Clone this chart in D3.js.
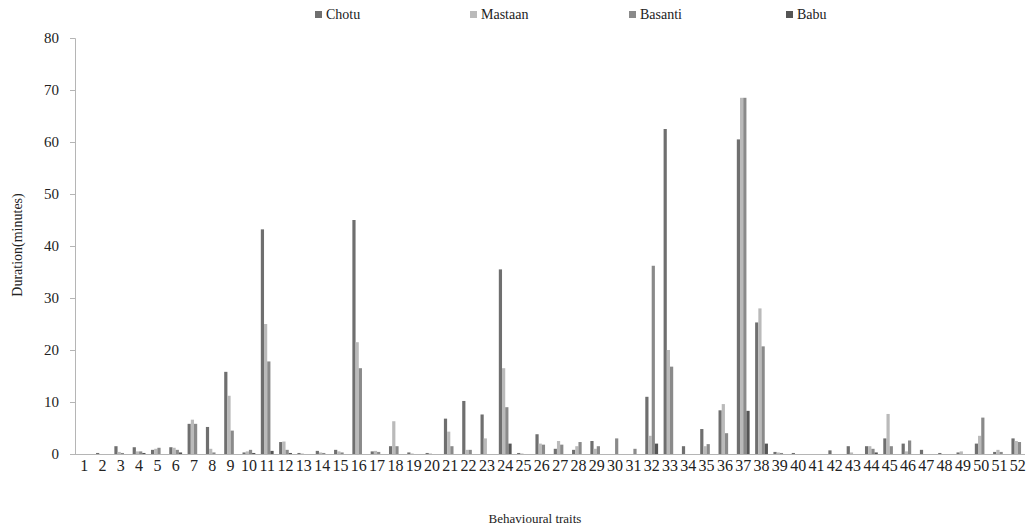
<!DOCTYPE html>
<html>
<head>
<meta charset="utf-8">
<script src="https://cdn.jsdelivr.net/npm/d3@7"></script>
<style>
  body { margin: 0; background: #fff; }
  svg, svg text { font-family: "Liberation Serif", "DejaVu Serif", serif; }
</style>
</head>
<body>
<div id="fig"></div>
<script>
// behavioural trait numbers
var traits = [1,2,3,4,5,6,7,8,9,10,11,12,13,14,15,16,17,18,19,20,21,22,23,24,25,26,
              27,28,29,30,31,32,33,34,35,36,37,38,39,40,41,42,43,44,45,46,47,48,49,50,51,52];

var seriesNames = ["Chotu", "Mastaan", "Basanti", "Babu"];
var seriesColors = ["#6f6f6f", "#bababa", "#8a8a8a", "#555555"];

// durations in minutes
var chotu   = [0, 0.2, 1.5, 1.3, 0.8, 1.3, 5.8, 5.2, 15.8, 0.3, 43.2, 2.3, 0.2, 0.6, 0.8, 45, 0.5, 1.5, 0.3, 0.2,
               6.8, 10.2, 7.6, 35.5, 0.2, 3.8, 1.0, 0.8, 2.5, 0, 0, 11, 62.5, 1.5, 4.8, 8.4, 60.5, 25.3, 0.4, 0.2,
               0, 0.7, 1.5, 1.5, 3.0, 2.0, 0.8, 0.2, 0.3, 2.0, 0.4, 3.0];
var mastaan = [0, 0, 0.4, 0.5, 1.0, 1.2, 6.6, 1.0, 11.2, 0.5, 25, 2.4, 0.1, 0.3, 0.5, 21.5, 0.6, 6.3, 0.1, 0.1,
               4.3, 0.8, 3.0, 16.5, 0.1, 2.0, 2.5, 1.5, 1.0, 0, 0, 3.5, 20, 0, 1.5, 9.6, 68.5, 28, 0.3, 0,
               0, 0, 0.3, 1.5, 7.7, 0.5, 0, 0, 0.5, 3.5, 0.8, 2.5];
var basanti = [0, 0, 0.2, 0.5, 1.2, 0.8, 5.8, 0.3, 4.5, 0.8, 17.8, 0.8, 0, 0.2, 0.3, 16.5, 0.4, 1.5, 0, 0,
               1.5, 0.8, 0, 9, 0, 1.8, 1.8, 2.3, 1.5, 3.0, 1.0, 36.2, 16.8, 0, 1.9, 4.0, 68.5, 20.7, 0.2, 0,
               0, 0, 0, 1.0, 1.5, 2.6, 0, 0, 0, 7.0, 0.4, 2.3];
var babu    = [0, 0, 0, 0.2, 0, 0.3, 0, 0, 0, 0.2, 0.6, 0.2, 0, 0, 0, 0, 0, 0, 0, 0,
               0, 0, 0, 2, 0, 0, 0, 0, 0, 0, 0, 2, 0, 0, 0, 0, 8.3, 2, 0, 0,
               0, 0, 0, 0.3, 0, 0, 0, 0, 0, 0, 0, 0];

var yTicks = [0, 10, 20, 30, 40, 50, 60, 70, 80];

var width = 1027, height = 529;
var serif = "'Liberation Serif', 'DejaVu Serif', serif";
var allSeries = [chotu, mastaan, basanti, babu];

var svg = d3.select("#fig").append("svg")
    .attr("width", width)
    .attr("height", height)
    .attr("font-family", serif);

var x = d3.scaleBand()
    .domain(traits)
    .range([75, 1027])
    .paddingInner(0.3)
    .paddingOuter(0.15);

var xSub = d3.scaleBand()
    .domain(seriesNames)
    .range([0, x.bandwidth()]);

var y = d3.scaleLinear()
    .domain([0, 80])
    .range([454, 38]);

// bars
var groups = svg.append("g").selectAll("g")
    .data(traits)
    .enter().append("g")
      .attr("transform", function(d) { return "translate(" + x(d) + ",0)"; });

groups.selectAll("rect")
    .data(function(d, i) {
      return seriesNames.map(function(s, k) { return {s: s, k: k, v: allSeries[k][i]}; });
    })
    .enter().append("rect")
      .attr("x", function(d) { return xSub(d.s); })
      .attr("width", xSub.bandwidth())
      .attr("y", function(d) { return y(d.v); })
      .attr("height", function(d) { return y(0) - y(d.v); })
      .attr("fill", function(d) { return seriesColors[d.k]; });

// y axis
var yAxis = svg.append("g")
    .attr("transform", "translate(75,0)")
    .call(d3.axisLeft(y).tickValues(yTicks).tickSize(5).tickPadding(11));
yAxis.attr("font-family", serif).attr("font-size", 15);
yAxis.select(".domain").attr("stroke", "#b5b5b5");
yAxis.selectAll(".tick line").attr("stroke", "#b5b5b5");
yAxis.selectAll(".tick text").attr("fill", "#222");

// x axis
var xAxis = svg.append("g")
    .attr("transform", "translate(0,454)")
    .call(d3.axisBottom(x).tickSize(0).tickPadding(6));
xAxis.attr("font-family", serif).attr("font-size", 16);
xAxis.select(".domain").attr("stroke", "#b5b5b5").attr("d", "M75,0.5H1025");
xAxis.selectAll(".tick text").attr("fill", "#222");

// axis titles
svg.append("text")
    .attr("x", 535)
    .attr("y", 523)
    .attr("text-anchor", "middle")
    .attr("fill", "#222")
    .attr("font-size", 13)
    .text("Behavioural traits");

svg.append("text")
    .attr("transform", "translate(22,245) rotate(-90)")
    .attr("text-anchor", "middle")
    .attr("fill", "#222")
    .attr("font-size", 14)
    .text("Duration(minutes)");

// legend
var legendX = [315, 470, 629, 786];
var legend = svg.append("g").selectAll("g")
    .data(seriesNames)
    .enter().append("g")
      .attr("transform", function(d, i) { return "translate(" + legendX[i] + ",15)"; });
legend.append("rect")
    .attr("x", 0).attr("y", -4)
    .attr("width", 7).attr("height", 7)
    .attr("fill", function(d, i) { return seriesColors[i]; });
legend.append("text")
    .attr("x", 11)
    .attr("y", 4)
    .attr("fill", "#222")
    .attr("font-size", 14)
    .text(function(d) { return d; });
</script>
</body>
</html>
